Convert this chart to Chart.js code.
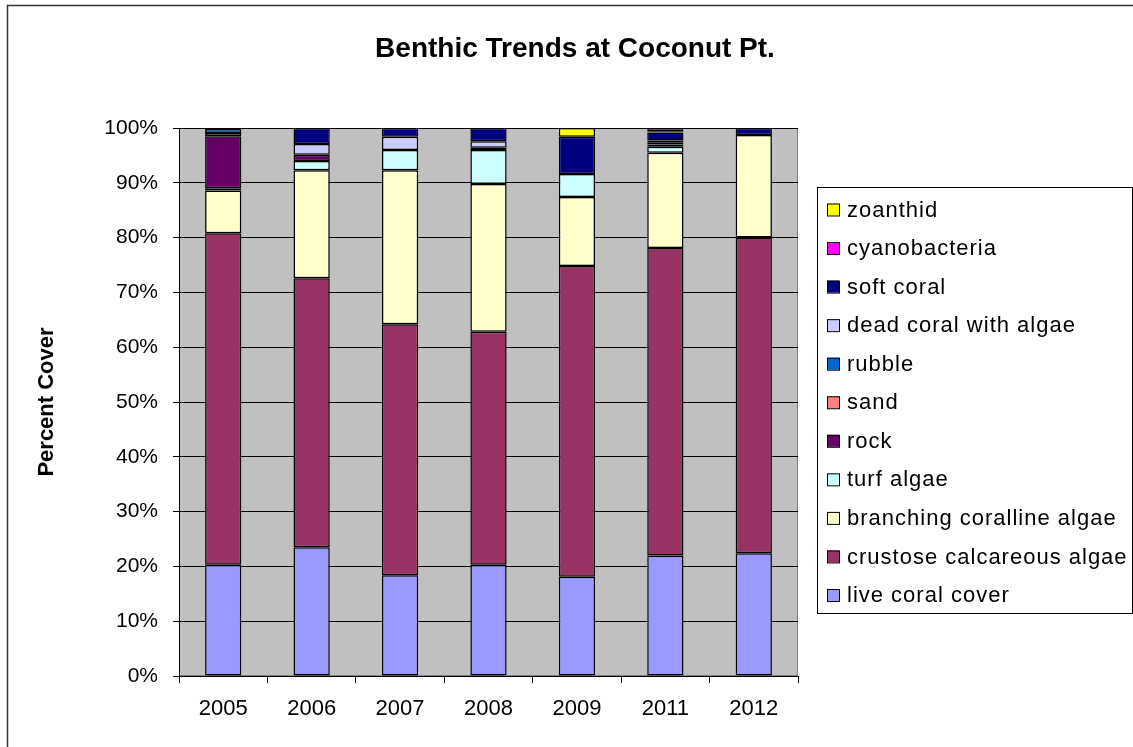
<!DOCTYPE html>
<html>
<head>
<meta charset="utf-8">
<script src="https://cdn.jsdelivr.net/npm/chart.js@4.4.0/dist/chart.umd.min.js"></script>
<style>
  html, body { margin: 0; padding: 0; background: #fff; }
  #wrap { width: 1133px; height: 747px; position: relative; }
</style>
</head>
<body>
<div id="wrap"><canvas id="chart"></canvas></div>
<script>
// years on the x axis
const years = ['2005', '2006', '2007', '2008', '2009', '2011', '2012'];

// percent cover per category (bottom of stack first)
const liveCoral     = [20.3, 23.5, 18.4, 20.3, 18.1, 22.0, 22.4];
const crustose      = [60.5, 49.1, 45.8, 42.5, 56.7, 56.1, 57.6];
const branching     = [7.8, 19.7, 28.1, 27.0, 12.6, 17.4, 18.7];
const turfAlgae     = [0.4, 1.7, 3.7, 6.2, 4.2, 1.1, 0];
const rock          = [9.5, 1.1, 0, 0.4, 0, 0.4, 0];
const sand          = [0.6, 0, 0, 0, 0, 0, 0];
const rubble        = [0.7, 0, 0, 0, 0, 0.4, 0];
const deadCoral     = [0, 2.0, 2.4, 1.2, 0, 0.3, 0];
const softCoral     = [0.2, 2.9, 1.6, 2.4, 6.8, 1.5, 1.3];
const cyanobacteria = [0, 0, 0, 0, 0, 0.2, 0];
const zoanthid      = [0, 0, 0, 0, 1.6, 0.6, 0];

const yTicks = [0, 10, 20, 30, 40, 50, 60, 70, 80, 90, 100];

const chartTitle = 'Benthic Trends at Coconut Pt.';

const series = [
  ['live coral cover', liveCoral, '#9999FF'],
  ['crustose calcareous algae', crustose, '#993366'],
  ['branching coralline algae', branching, '#FFFFCC'],
  ['turf algae', turfAlgae, '#CCFFFF'],
  ['rock', rock, '#660066'],
  ['sand', sand, '#FF8080'],
  ['rubble', rubble, '#0066CC'],
  ['dead coral with algae', deadCoral, '#CCCCFF'],
  ['soft coral', softCoral, '#000080'],
  ['cyanobacteria', cyanobacteria, '#FF00FF'],
  ['zoanthid', zoanthid, '#FFFF00']
];

const FONT = 'Arial, "Liberation Sans", sans-serif';

// gray plot background, outer frame and the centred title
const plotBg = {
  id: 'plotBg',
  beforeDraw(chart) {
    const {ctx, chartArea: a} = chart;
    ctx.save();
    ctx.fillStyle = '#C0C0C0';
    ctx.fillRect(a.left, a.top, a.right - a.left, a.bottom - a.top);
    ctx.strokeStyle = '#808080';
    ctx.lineWidth = 1;
    ctx.strokeRect(a.left + 0.5, a.top + 0.5, a.right - a.left - 1, a.bottom - a.top - 1);
    // outer frame
    ctx.strokeStyle = '#333';
    ctx.lineWidth = 1.5;
    ctx.beginPath();
    ctx.moveTo(7.5, 747);
    ctx.lineTo(7.5, 5.5);
    ctx.lineTo(1133, 5.5);
    ctx.stroke();
    // title
    ctx.fillStyle = '#000';
    ctx.font = 'bold 28px ' + FONT;
    ctx.textAlign = 'center';
    ctx.textBaseline = 'middle';
    ctx.fillText(chartTitle, 575, 49);
    ctx.restore();
  }
};

// legend box on the right, reversed order like the original
const sideLegend = {
  id: 'sideLegend',
  afterDraw(chart) {
    const {ctx} = chart;
    const ds = chart.data.datasets;
    const x0 = 817, y0 = 187, w = 315, h = 426;
    ctx.save();
    ctx.strokeStyle = '#000';
    ctx.lineWidth = 1;
    ctx.strokeRect(x0 + 0.5, y0 + 0.5, w, h);
    ctx.font = '22px ' + FONT;
    ctx.letterSpacing = '1px';
    ctx.textBaseline = 'middle';
    for (let i = 0; i < ds.length; i++) {
      const d = ds[ds.length - 1 - i];
      const cy = 209.5 + i * 38.55;
      ctx.fillStyle = d.backgroundColor;
      ctx.fillRect(827, cy - 6, 12, 12);
      ctx.strokeStyle = '#000';
      ctx.strokeRect(827.5, cy - 5.5, 12, 12);
      ctx.fillStyle = '#000';
      ctx.fillText(d.label, 847, cy + 1);
    }
    ctx.restore();
  }
};

new Chart(document.getElementById('chart'), {
  type: 'bar',
  data: {
    labels: years,
    datasets: series.map(([label, data, color]) => ({
      label: label,
      data: data,
      backgroundColor: color,
      borderColor: '#000',
      borderWidth: 1.5,
      borderSkipped: false,
      barPercentage: 0.41,
      categoryPercentage: 1
    }))
  },
  options: {
    responsive: true,
    maintainAspectRatio: false,
    animation: false,
    layout: { padding: { left: 9, right: 335, top: 128, bottom: 0 } },
    plugins: {
      legend: { display: false },
      tooltip: { enabled: false },
      title: { display: false }
    },
    scales: {
      x: {
        stacked: true,
        grid: {
          offset: true,
          drawOnChartArea: false,
          drawTicks: true,
          tickLength: 7,
          color: '#000'
        },
        border: { color: '#000', width: 1 },
        ticks: {
          color: '#000',
          padding: 13,
          font: { family: FONT, size: 22 }
        },
        afterFit(scale) { scale.height = 71; }
      },
      y: {
        stacked: true,
        min: 0,
        max: 100,
        afterBuildTicks(scale) { scale.ticks = yTicks.map(v => ({ value: v })); },
        grid: { color: '#000', tickLength: 6, drawTicks: true },
        border: { color: '#000', width: 1 },
        ticks: {
          color: '#000',
          padding: 15,
          font: { family: FONT, size: 21 },
          callback: v => v + '%'
        },
        title: {
          display: true,
          text: 'Percent Cover',
          color: '#000',
          font: { family: FONT, size: 22, weight: 'bold' },
          padding: { top: 25, bottom: 0 }
        },
        afterFit(scale) { scale.width = 170; }
      }
    }
  },
  plugins: [plotBg, sideLegend]
});
</script>
</body>
</html>
